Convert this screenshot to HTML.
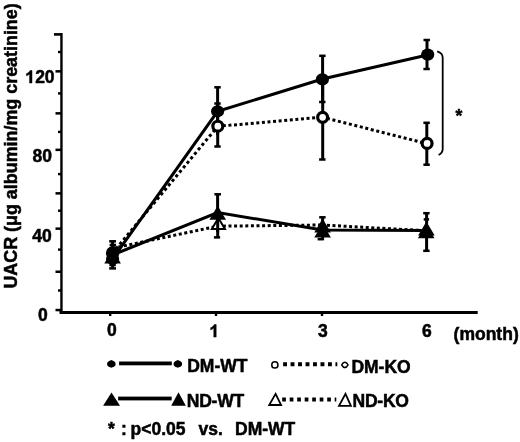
<!DOCTYPE html>
<html><head><meta charset="utf-8"><style>
html,body{-webkit-font-smoothing:antialiased;margin:0;padding:0;background:#fff;width:520px;height:442px;overflow:hidden}
svg{display:block;will-change:transform}
text{font-family:"Liberation Sans",sans-serif;font-weight:bold;fill:#000;stroke:#000;stroke-width:0.5px}
</style></head><body>
<svg width="520" height="442" viewBox="0 0 520 442">
<rect width="520" height="442" fill="#fff"/>
<!-- y axis title -->
<text transform="translate(16.5,288.6) rotate(-90)" font-size="17.9">UACR (μg albumin/mg creatinine)</text>
<!-- axes -->
<g fill="#000">
<rect x="60.25" y="33" width="2.4" height="281"/>
<rect x="59.5" y="311" width="418.2" height="3"/>
<!-- major ticks -->
<rect x="54" y="33.1" width="8" height="2.6"/>
<rect x="55.5" y="70.1" width="6" height="2.5"/>
<rect x="55.5" y="112.1" width="6" height="2.5"/>
<rect x="55.5" y="148.6" width="6" height="2.5"/>
<rect x="55.5" y="192.1" width="6" height="2.5"/>
<rect x="55.5" y="227.4" width="6" height="2.5"/>
<rect x="55.5" y="270.5" width="6" height="2.5"/>
<rect x="55.5" y="308.8" width="6" height="2.5"/>
<!-- minor ticks -->
<rect x="58" y="50.8" width="3" height="2.4"/>
<rect x="58" y="92.2" width="3" height="2.4"/>
<rect x="58" y="130.7" width="3" height="2.4"/>
<rect x="58" y="172.9" width="3" height="2.4"/>
<rect x="58" y="209.5" width="3" height="2.4"/>
<rect x="58" y="248.4" width="3" height="2.4"/>
<rect x="58" y="289.3" width="3" height="2.4"/>
<!-- x ticks -->
<rect x="109" y="313" width="2.4" height="3"/>
<rect x="214.8" y="313" width="2.4" height="3"/>
<rect x="320.8" y="313" width="2.4" height="3"/>
</g>
<!-- y labels -->
<g font-size="17.5">
<path d="M31.98 83.00L29.58 83.00L29.58 73.99Q28.27 75.21 26.48 75.79L26.48 73.62Q27.43 73.31 28.53 72.45Q29.63 71.59 30.05 70.47L31.98 70.47Z" fill="#000" stroke="#000" stroke-width="0.5"/>
<text x="35.13" y="83">20</text>
<text x="32.5" y="162.3">80</text>
<text x="32.2" y="241.9">40</text>
<text x="38" y="321.4">0</text>
</g>
<!-- x labels -->
<g font-size="17.5">
<text x="107.1" y="336.2">0</text>
<path d="M216.18 337.10L213.78 337.10L213.78 328.09Q212.47 329.31 210.68 329.89L210.68 327.72Q211.63 327.41 212.73 326.55Q213.83 325.69 214.25 324.57L216.18 324.57Z" fill="#000" stroke="#000" stroke-width="0.5"/>
<text x="318" y="337">3</text>
<text x="421.9" y="337">6</text>
<text x="453.6" y="340.2">(month)</text>
</g>

<!-- data lines -->
<g fill="none" stroke="#000" stroke-width="3">
<!-- ND-KO dotted -->
<path d="M112.5 248.3L217.6 226.2" stroke-dasharray="3 2.61" stroke-dashoffset="5.2"/>
<path d="M217.6 226.2L322.4 225" stroke-dasharray="3 2.6" stroke-dashoffset="0.3"/>
<path d="M322.4 225L427 230.8" stroke-dasharray="3 2.55" stroke-dashoffset="1"/>
<!-- DM-KO dotted -->
<path d="M112.5 253L217.8 126.3" stroke-dasharray="3.1 2.74" stroke-dashoffset="0.43"/>
<path d="M217.8 126.3L322.5 117.2" stroke-dasharray="3 2.6" stroke-dashoffset="0.54"/>
<path d="M322.5 117.2L427 143.7" stroke-dasharray="3 2.65" stroke-dashoffset="1.05"/>
<!-- ND-WT solid -->
<polyline points="112.5,255 217.6,212.5 322.4,230 427,230.6"/>
<!-- DM-WT solid -->
<polyline points="112.5,259 217.6,111.4 322.4,79 427.5,55"/>
</g>

<!-- error bars -->
<g stroke="#000" stroke-width="3" fill="none">
<path d="M112.6 241.3V268.4"/>
<path d="M217.6 87.3V135"/>
<path d="M322.6 55.8V102"/>
<path d="M427 40V69"/>
<path d="M217.7 103.5V146.5"/>
<path d="M322.7 75V159.5"/>
<path d="M426.8 122.8V164.7"/>
<path d="M217.6 194.3V232"/>
<path d="M322.6 217.3V240"/>
<path d="M426.6 213.2V250.8"/>
</g>
<g fill="#000">
<rect x="109.20" y="240.05" width="6.8" height="2.5"/>
<rect x="109.60" y="243.75" width="6.4" height="2.5"/>
<rect x="109.40" y="263.75" width="6.4" height="2.5"/>
<rect x="109.20" y="267.15" width="6.8" height="2.5"/>
<rect x="214.30" y="86.05" width="6.4" height="2.5"/>
<rect x="214.30" y="102.25" width="6.4" height="2.5"/>
<rect x="214.30" y="145.25" width="6.4" height="2.5"/>
<rect x="319.20" y="54.55" width="6.4" height="2.5"/>
<rect x="319.10" y="100.75" width="6.4" height="2.5"/>
<rect x="319.10" y="158.25" width="6.4" height="2.5"/>
<rect x="423.50" y="38.75" width="6.4" height="2.5"/>
<rect x="423.40" y="67.75" width="6.4" height="2.5"/>
<rect x="423.40" y="121.55" width="6.4" height="2.5"/>
<rect x="423.40" y="163.45" width="6.4" height="2.5"/>
<rect x="214.40" y="193.05" width="6.6" height="2.5"/>
<rect x="213.90" y="236.15" width="6.2" height="2.5"/>
<rect x="319.20" y="216.05" width="6.4" height="2.5"/>
<rect x="317.60" y="237.95" width="6.2" height="2.5"/>
<rect x="423.20" y="211.95" width="6.4" height="2.5"/>
<rect x="423.70" y="218.15" width="5.4" height="2.5"/>
<rect x="423.20" y="249.55" width="6.4" height="2.5"/>
</g>
<!-- markers -->
<g fill="#fff" stroke="#000" stroke-width="2" stroke-linejoin="miter">
<path d="M218.4 217.96 L224.94 229.00 L211.86 229.00Z"/>
<path d="M322.6 220.46 L329.14 231.50 L316.06 231.50Z" fill="#000"/>
<path d="M426.4 223.46 L432.94 234.50 L419.86 234.50Z" fill="#000"/>
</g>
<rect x="216.2" y="214" width="3" height="23" fill="#000"/>
<g fill="#fff" stroke="#000" stroke-width="3.2">
<circle cx="112.6" cy="253" r="5.1" fill="#000"/>
<circle cx="217.8" cy="126.2" r="4.95"/>
<circle cx="322.6" cy="117.3" r="4.95"/>
<circle cx="427.1" cy="143.4" r="4.95"/>
</g>
<g fill="#000">
<path d="M112.6 249.50 L120.90 263.50 L104.30 263.50Z"/>
<path d="M217.7 205.80 L226.00 219.80 L209.40 219.80Z"/>
<path d="M322.6 223.40 L330.90 237.40 L314.30 237.40Z"/>
<path d="M426.2 224.20 L434.50 238.20 L417.90 238.20Z"/>
<ellipse cx="112.6" cy="259" rx="6.6" ry="6.1"/>
<ellipse cx="217.6" cy="111.3" rx="6.6" ry="6.1"/>
<ellipse cx="322.4" cy="79.4" rx="6.6" ry="6.1"/>
<ellipse cx="427.7" cy="54.6" rx="6.6" ry="6.1"/>
</g>

<!-- significance bracket -->
<path d="M437.2 51.3 Q442.7 53 442.7 57.6 L442.7 149 Q442.7 153 438.6 155" fill="none" stroke="#000" stroke-width="1.8"/>
<text x="455.6" y="122" font-size="17.5">*</text>

<!-- legend -->
<g fill="#000">
<path d="M111.35 360.1 Q112.4 360.6 113.6 360.9 Q115.7 362 115.7 363.9 Q115.7 365.8 113.6 366.9 Q112.4 367.2 111.35 367.7 Q110.3 367.2 109.1 366.9 Q107 365.8 107 363.9 Q107 362 109.1 360.9 Q110.3 360.6 111.35 360.1Z"/>
<rect x="119.1" y="361.5" width="52.7" height="3.8"/>
<path d="M177.85 360.1 Q178.9 360.6 180.1 360.9 Q182.2 362 182.2 363.9 Q182.2 365.8 180.1 366.9 Q178.9 367.2 177.85 367.7 Q176.8 367.2 175.6 366.9 Q173.5 365.8 173.5 363.9 Q173.5 362 175.6 360.9 Q176.8 360.6 177.85 360.1Z"/>
<path d="M111.5 392.5 L120 405.8 L103.1 405.8Z"/>
<rect x="118.1" y="396.6" width="53.6" height="3.8"/>
<path d="M178.5 392.3 L185.8 405.8 L171.2 405.8Z"/>
</g>
<g fill="#fff" stroke="#000" stroke-width="1.7" stroke-linejoin="round">
<ellipse cx="274.85" cy="364.9" rx="3.1" ry="3.1" stroke-width="1.5"/>
<path d="M341.6 364.9 L343.3 362.8 Q344.85 361.8 346.4 362.8 L348.1 364.9 L346.4 367 Q344.85 368 343.3 367 Z" stroke-width="1.5"/>
</g>
<g fill="#fff" stroke="#000" stroke-width="1.8" stroke-linejoin="miter">
<path d="M275.6 393.8 L281.1 405.0 L269.2 405.0Z"/>
<path d="M345.5 393.8 L350.9 405.8 L339.0 405.8Z"/>
</g>
<path d="M283.1 364.3 H337.3" stroke="#000" stroke-width="4" stroke-dasharray="3.9 3.58"/>
<path d="M282.2 399.6 H336.3" stroke="#000" stroke-width="4" stroke-dasharray="3.7 3.8"/>
<g font-size="17.5">
<text x="187.2" y="372.1">DM-WT</text>
<text x="351.4" y="373">DM-KO</text>
<text x="186.8" y="407" letter-spacing="-0.25">ND-WT</text>
<text x="352.6" y="407" letter-spacing="-0.25">ND-KO</text>
</g>
<!-- footnote -->
<g font-size="17.5">
<text x="108" y="435">*</text>
<text x="121" y="435">:</text>
<text x="130.5" y="435">p&lt;0.05</text>
<text x="198.5" y="435">vs.</text>
<text x="235" y="435">DM-WT</text>
</g>
</svg>
</body></html>
